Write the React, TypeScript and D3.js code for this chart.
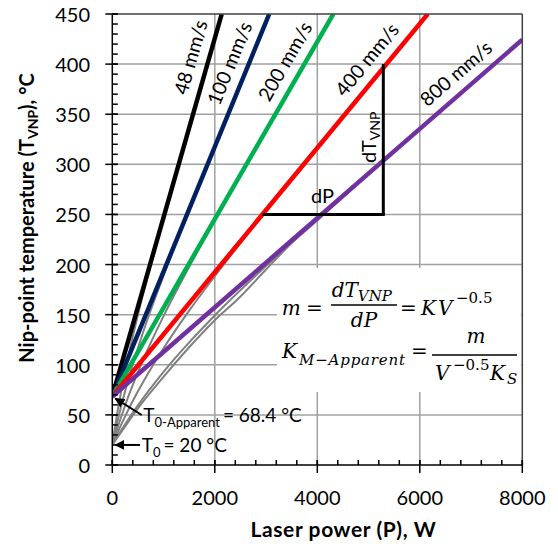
import React from 'react';
import * as d3 from 'd3';

// Scan speeds and the fitted slopes of the nip-point temperature lines
const SPEED_LABELS = ['48 mm/s', '100 mm/s', '200 mm/s', '400 mm/s', '800 mm/s'];
const SLOPES = [0.1787, 0.1246, 0.0885, 0.062, 0.0445];
const LINE_COLORS = ['#000000', '#002060', '#00b050', '#ff0000', '#7030a0'];
const T0_APPARENT = 68.4;
const T0 = 20;
// temperature along each line where its label sits
const LABEL_T = [407, 401, 403, 405, 391];

// Model curves starting from the true ambient temperature
const GRAY_CURVES: [number, number][][] = [
  [[0, 20], [100, 52.6], [250, 93.5], [500, 149.8], [750, 199.2], [1000, 245.8], [1500, 336.2], [2200, 461.5]],
  [[0, 20], [100, 43.2], [250, 73.6], [500, 116.8], [750, 154.4], [1000, 189], [1500, 254.2], [2000, 317.3], [3200, 467.1]],
  [[0, 20], [100, 36.7], [250, 59.4], [500, 92.6], [750, 121.9], [1000, 148.6], [1500, 197.7], [2000, 244], [3000, 333.7], [4500, 466.6]],
  [[0, 20], [100, 31.9], [250, 48.5], [500, 73.5], [750, 95.9], [1000, 116.5], [1500, 154], [2000, 188.4], [3000, 253.3], [4000, 316.1], [6400, 465.2]],
  [[0, 20], [100, 28.6], [250, 40.7], [500, 59.5], [1000, 92.9], [1500, 122.3], [2000, 149.2], [3000, 198.5], [4000, 245], [6000, 335.2], [8000, 424.3]],
  [[0, 20], [100, 27.5], [250, 38.5], [500, 56.5], [1000, 88], [1500, 117.5], [2000, 144.5], [2430, 164.6], [3000, 195], [3500, 221.5], [4000, 244], [5000, 290], [6000, 335], [8000, 424.2]],
];

const X_TICKS = [0, 2000, 4000, 6000, 8000];
const Y_TICKS = [0, 50, 100, 150, 200, 250, 300, 350, 400, 450];
const X_MINOR_STEP = 400;
const Y_MINOR_STEP = 10;

// slope triangle on the 400 mm/s line
const TRI_P = 5288;
const TRI_T_TOP = 400;
const TRI_T_BOTTOM = 250;
const TRI_LINE = 3;

const W = 558;
const H = 551;
const L = 112.3, R = 522.3, T = 14, B = 465;

export default function App() {
  const x = d3.scaleLinear().domain([0, 8000]).range([L, R]);
  const y = d3.scaleLinear().domain([0, 450]).range([B, T]);

  const xMinor = d3.range(0, 8000 + 1, X_MINOR_STEP);
  const yMinor = d3.range(0, 450 + 1, Y_MINOR_STEP);

  const curve = d3
    .line<[number, number]>()
    .x((d) => x(d[0]))
    .y((d) => y(d[1]))
    .curve(d3.curveMonotoneX);

  const lines = SLOPES.map((m) => {
    const pEnd = Math.min(8000, (450 - T0_APPARENT) / m);
    return [
      [0, T0_APPARENT],
      [pEnd, T0_APPARENT + m * pEnd],
    ] as [number, number][];
  });

  const labels = SLOPES.map((m, i) => {
    const t = LABEL_T[i];
    const p = (t - T0_APPARENT) / m;
    const px = x(p);
    const py = y(t);
    const pixSlope = (y(T0_APPARENT) - y(T0_APPARENT + m * 1000)) / (x(1000) - x(0));
    const a = Math.atan(pixSlope);
    const cx = px - 18.5 / Math.sin(a);
    return { cx, cy: py, deg: (a * 180) / Math.PI, text: SPEED_LABELS[i] };
  });

  const red = SLOPES[3];
  const triLeftP = (TRI_T_BOTTOM - T0_APPARENT) / red;

  const sans = 'Lato, "Open Sans", sans-serif';
  const serif = '"DejaVu Serif", serif';

  return (
    <svg
      width={W}
      height={H}
      style={{ position: 'absolute', left: 0, top: 0, background: '#fff' }}
      fontFamily={sans}
    >
      <defs>
        <clipPath id="plot">
          <rect x={L} y={T} width={R - L} height={B - T} />
        </clipPath>
        <marker id="arrow" viewBox="0 0 10 10" refX="9" refY="5" markerWidth="5" markerHeight="5" orient="auto">
          <path d="M0,0 L10,5 L0,10 z" fill="#000" />
        </marker>
      </defs>
      <rect x={0} y={0} width={W} height={H} fill="#fff" />

      {/* grid */}
      <g stroke="#a0a0a0" strokeWidth={1.5}>
        {X_TICKS.filter((v) => v > 0 && v < 8000).map((v) => (
          <line key={'gx' + v} x1={x(v)} x2={x(v)} y1={T} y2={B} />
        ))}
        {Y_TICKS.filter((v) => v > 0 && v < 450).map((v) => (
          <line key={'gy' + v} x1={L} x2={R} y1={y(v)} y2={y(v)} />
        ))}
      </g>

      <g clipPath="url(#plot)">
        {GRAY_CURVES.map((c, i) => (
          <path key={'g' + i} d={curve(c) || ''} fill="none" stroke="#808080" strokeWidth={2} />
        ))}
        {lines.map((l, i) => (
          <path key={'l' + i} d={curve(l) || ''} fill="none" stroke={LINE_COLORS[i]} strokeWidth={4.5} />
        ))}
      </g>

      {/* equation panel */}
      <rect x={277} y={268} width={R - 277 - 1} height={392 - 268} fill="#fff" />
      <g fontFamily={serif} fontStyle="italic" fontSize={20} fill="#000">
        <text x={281.7} y={315}>m</text>
        <text x={306} y={315} fontStyle="normal">=</text>
        <text x={331.7} y={296.7}>
          dT<tspan fontSize={15} dy={4}>VNP</tspan>
        </text>
        <line x1={331} x2={397} y1={305} y2={305} stroke="#000" strokeWidth={1.3} />
        <text x={364} y={326.7} textAnchor="middle">dP</text>
        <text x={400} y={315} fontStyle="normal">=</text>
        <text x={421} y={315}>K</text>
        <text x={438} y={315}>V</text>
        <text x={456} y={303} fontSize={15} fontStyle="normal">−0.5</text>

        <text x={282} y={358}>K</text>
        <text x={299} y={365} fontSize={15} textLength={106}>M−Apparent</text>
        <text x={411} y={358} fontStyle="normal">=</text>
        <text x={476} y={343} textAnchor="middle">m</text>
        <line x1={432} x2={517} y1={355} y2={355} stroke="#000" strokeWidth={1.3} />
        <text x={435} y={380}>V</text>
        <text x={453} y={370} fontSize={15} fontStyle="normal">−0.5</text>
        <text x={490} y={380}>K</text>
        <text x={507} y={384} fontSize={15}>S</text>
      </g>

      {/* slope triangle */}
      <g stroke="#000" strokeWidth={TRI_LINE} fill="none">
        <line x1={x(TRI_P)} x2={x(TRI_P)} y1={y(TRI_T_TOP)} y2={y(TRI_T_BOTTOM)} />
        <line x1={x(triLeftP)} x2={x(TRI_P) + TRI_LINE / 2} y1={y(TRI_T_BOTTOM)} y2={y(TRI_T_BOTTOM)} />
      </g>
      <text x={322.5} y={203} fontSize={20} textAnchor="middle">dP</text>
      <text transform={`translate(375.5,${y(TRI_T_TOP) + 99}) rotate(-90)`} fontSize={20}>
        dT<tspan fontSize={14} dy={4}>VNP</tspan>
      </text>

      {/* speed labels */}
      {labels.map((lb, i) => (
        <text
          key={'lb' + i}
          transform={`translate(${lb.cx},${lb.cy}) rotate(${-lb.deg})`}
          textAnchor="middle"
          dominantBaseline="central"
          fontSize={19.5}
        >
          {lb.text}
        </text>
      ))}

      {/* intercept annotations */}
      <line x1={141.7} y1={415} x2={x(0) + 3} y2={y(T0_APPARENT) + 2} stroke="#000" strokeWidth={2} markerEnd="url(#arrow)" />
      <text x={143.3} y={421.7} fontSize={19}>
        T<tspan fontSize={13} dy={5}>0-Apparent</tspan>
        <tspan dy={-5} dx={3}>= {T0_APPARENT} °C</tspan>
      </text>
      <line x1={140} y1={y(T0)} x2={x(0) + 3} y2={y(T0)} stroke="#000" strokeWidth={2} markerEnd="url(#arrow)" />
      <text x={141.7} y={452} fontSize={19}>
        T<tspan fontSize={13} dy={5}>0</tspan>
        <tspan dy={-5} dx={3}>= {T0} °C</tspan>
      </text>

      {/* plot border */}
      <g stroke="#404040" strokeWidth={1.5}>
        <line x1={L} x2={R} y1={T} y2={T} />
        <line x1={R} x2={R} y1={T} y2={B} />
      </g>

      {/* axes */}
      <g stroke="#000" strokeWidth={1.5}>
        <line x1={L} x2={R} y1={B} y2={B} />
        <line x1={L} x2={L} y1={T} y2={B} />
        {xMinor.map((v) => (
          <line key={'xm' + v} x1={x(v)} x2={x(v)} y1={B} y2={B - 5} />
        ))}
        {X_TICKS.map((v) => (
          <line key={'xt' + v} x1={x(v)} x2={x(v)} y1={B - 5} y2={B + 8} />
        ))}
        {yMinor.map((v) => (
          <line key={'ym' + v} x1={L} x2={L + 5.5} y1={y(v)} y2={y(v)} />
        ))}
        {Y_TICKS.map((v) => (
          <line key={'yt' + v} x1={L - 7} x2={L + 5.5} y1={y(v)} y2={y(v)} />
        ))}
      </g>
      <g fontSize={20} fill="#000">
        {X_TICKS.map((v) => (
          <text key={'xl' + v} x={x(v)} y={505} textAnchor="middle">{v}</text>
        ))}
        {Y_TICKS.map((v) => (
          <text key={'yl' + v} x={90} y={y(v)} textAnchor="end" dominantBaseline="central">{v}</text>
        ))}
      </g>

      <text x={343.5} y={537} textAnchor="middle" fontWeight="bold" fontSize={21} letterSpacing={0.6}>
        Laser power (P), W
      </text>
      <text transform="translate(34,218) rotate(-90)" textAnchor="middle" fontWeight="bold" fontSize={20}>
        Nip-point temperature (T<tspan fontSize={14} dy={4}>VNP</tspan><tspan dy={-4}>), °C</tspan>
      </text>
    </svg>
  );
}
